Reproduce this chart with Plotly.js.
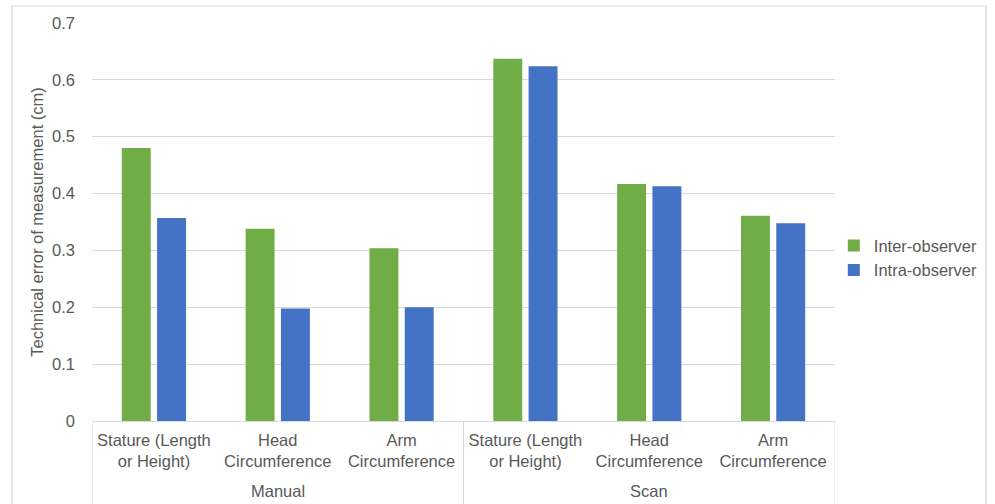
<!DOCTYPE html>
<html>
<head>
<meta charset="utf-8">
<script src="https://cdn.plot.ly/plotly-3.0.1.min.js"></script>
<style>html,body{margin:0;padding:0;background:#fff;}#chart{width:995px;height:504px;}</style>
</head>
<body>
<div id="chart"></div>
<script>
const groups = ["Manual", "Scan"];
const groupPositions = [1, 4];
const groupBoundaries = [-0.5, 2.5, 5.5];
const measures = ["Stature (Length<br>or Height)", "Head<br>Circumference", "Arm<br>Circumference",
                  "Stature (Length<br>or Height)", "Head<br>Circumference", "Arm<br>Circumference"];
const positions = [0, 1, 2, 3, 4, 5];
const interObserver = [0.480, 0.338, 0.304, 0.637, 0.417, 0.361];
const intraObserver = [0.357, 0.198, 0.200, 0.624, 0.413, 0.348];
const seriesNames = ["Inter-observer", "Intra-observer"];
const yTicks = [0, 0.1, 0.2, 0.3, 0.4, 0.5, 0.6, 0.7];
const yTickText = ["0", "0.1", "0.2", "0.3", "0.4", "0.5", "0.6", "0.7"];

const data = [
  {type: "bar", name: seriesNames[0], x: positions, y: interObserver,
   marker: {color: "#70AD47"}, hoverinfo: "y"},
  {type: "bar", name: seriesNames[1], x: positions, y: intraObserver,
   marker: {color: "#4472C4"}, hoverinfo: "y"}
];

const frameColor = "#d9d9d9";
const shapes = groupBoundaries.map(b => ({
  type: "line", xref: "x", yref: "paper", x0: b, x1: b, y0: 0, y1: -0.21,
  line: {color: frameColor, width: 1}
}));
// outer chart frame
shapes.push({type: "line", xref: "paper", yref: "paper", x0: -0.1077, x1: 1.2033, y0: 1.0427, y1: 1.0427,
  line: {color: frameColor, width: 1.2}});
shapes.push({type: "line", xref: "paper", yref: "paper", x0: -0.1077, x1: -0.1077, y0: 1.0427, y1: -0.3,
  line: {color: frameColor, width: 1.2}});
shapes.push({type: "line", xref: "paper", yref: "paper", x0: 1.2033, x1: 1.2033, y0: 1.0427, y1: -0.3,
  line: {color: frameColor, width: 1.5}});

const annotations = groups.map((g, i) => ({
  text: g, xref: "x", yref: "paper", x: groupPositions[i], y: -0.176,
  xanchor: "center", yanchor: "middle", showarrow: false,
  font: {size: 16.5, color: "#595959"}
}));

const layout = {
  width: 995, height: 504,
  margin: {l: 92, r: 160, t: 23, b: 83, autoexpand: false},
  paper_bgcolor: "#ffffff", plot_bgcolor: "#ffffff",
  font: {family: "Liberation Sans, Arial, sans-serif", color: "#595959", size: 16.5},
  barmode: "group", bargap: 0.43, bargroupgap: 0.18,
  xaxis: {
    automargin: false, range: [-0.5, 5.5],
    tickvals: positions, ticktext: measures,
    showline: true, linecolor: frameColor, linewidth: 1,
    ticks: "", showgrid: false, zeroline: false,
    tickfont: {size: 16.5, color: "#595959"},
    ticklabelstandoff: 4
  },
  yaxis: {
    automargin: false,
    range: [0, 0.7], tickvals: yTicks, ticktext: yTickText,
    showgrid: true, gridcolor: frameColor, gridwidth: 1,
    zeroline: false, showline: false, ticks: "",
    tickfont: {size: 16.5, color: "#595959"},
    ticklabelstandoff: 16,
    title: {text: "Technical error of measurement (cm)", font: {size: 16.5, color: "#595959"}, standoff: 4}
  },
  legend: {xref: "container", x: 0.838, xanchor: "left", y: 0.41, yanchor: "middle",
           bgcolor: "rgba(0,0,0,0)",
           font: {size: 16.5, color: "#595959"}, itemwidth: 30, tracegroupgap: 2},
  showlegend: true,
  shapes: shapes,
  annotations: annotations
};

Plotly.newPlot("chart", data, layout, {displayModeBar: false, staticPlot: true});
</script>
</body>
</html>
